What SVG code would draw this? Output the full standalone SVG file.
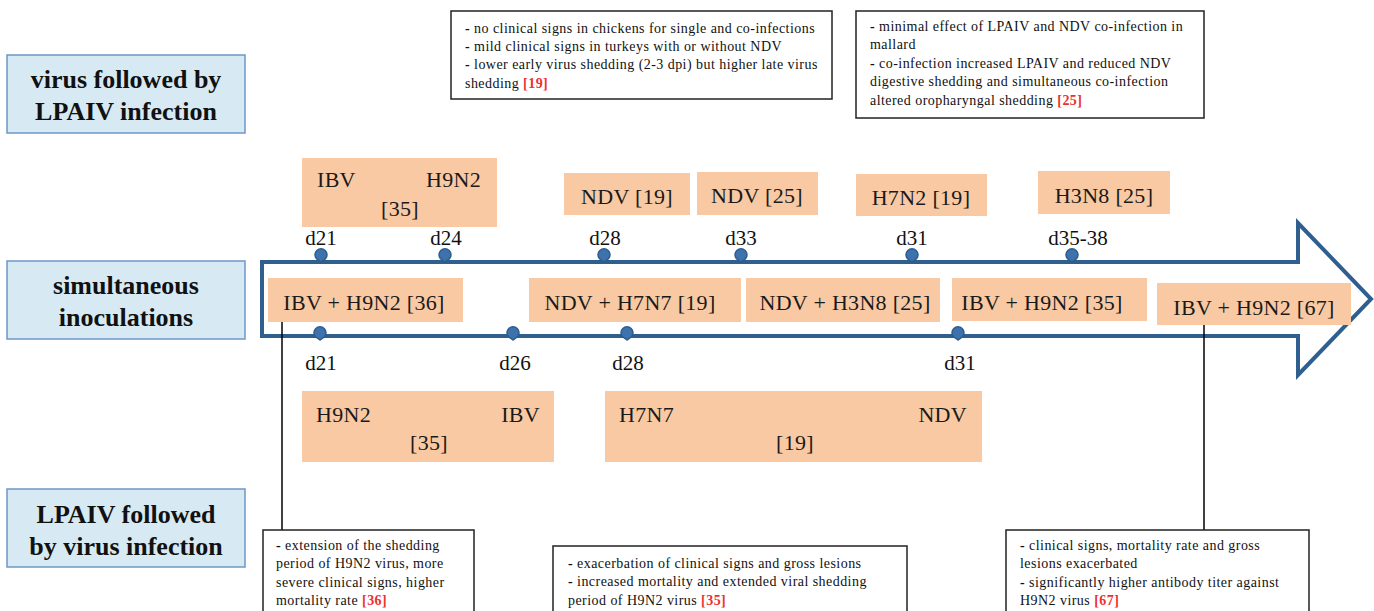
<svg xmlns="http://www.w3.org/2000/svg" width="1374" height="611" viewBox="0 0 1374 611">
<defs>
<style>
text{font-family:'Liberation Serif','Times New Roman',serif}
.lab{fill:#d7eaf4;stroke:#6f97c8;stroke-width:1.5}
.labt{font-weight:bold;font-size:26px;fill:#111;text-anchor:middle}
.ob{fill:#f8c9a2}
.ot{font-size:22px;letter-spacing:0.3px;fill:#1a1a1a}
.day{font-size:21px;fill:#111;text-anchor:middle}
.nb{fill:#fff;stroke:#222;stroke-width:1.5}
.nt{font-size:14px;letter-spacing:0.45px;fill:#111}
.ref{fill:#ee3030;font-weight:bold}
.b{font-weight:bold}
.conn{stroke:#000;stroke-width:1.5;fill:none}
</style>
<path id="pin" d="M0,7 L-4.5,3.8 A6,6 0 1 1 4.5,3.8 Z" fill="#3d72ad" stroke="#2d5c8c" stroke-width="1.5"/>
</defs>
<rect width="1374" height="611" fill="#fff"/>

<g id="label-virus-lpaiv">
<rect class="lab" x="7" y="55" width="238" height="78"/>
<text class="labt" x="126" y="88">virus followed by</text>
<text class="labt" x="126" y="120">LPAIV infection</text>
</g>
<g id="label-simultaneous">
<rect class="lab" x="7" y="261" width="238" height="78"/>
<text class="labt" x="126" y="294">simultaneous</text>
<text class="labt" x="126" y="326">inoculations</text>
</g>
<g id="label-lpaiv-virus">
<rect class="lab" x="7" y="489" width="238" height="78"/>
<text class="labt" x="126" y="523">LPAIV followed</text>
<text class="labt" x="126" y="555">by virus infection</text>
</g>

<g id="timeline-arrow">
<path d="M262,262 L1298,262 L1298,223 L1371,299 L1298,375 L1298,336 L262,336 Z" fill="none" stroke="#2f5f8f" stroke-width="4" stroke-linejoin="miter"/>
</g>

<g id="connectors">
<line class="conn" x1="282" y1="322" x2="282" y2="530"/>
<line class="conn" x1="1204" y1="325" x2="1204" y2="530"/>
</g>

<g id="pins-top">
<use href="#pin" x="321" y="255"/>
<use href="#pin" x="445" y="255"/>
<use href="#pin" x="604" y="255"/>
<use href="#pin" x="741" y="255"/>
<use href="#pin" x="912" y="255"/>
<use href="#pin" x="1072" y="255"/>
<text class="day" x="321" y="245">d21</text>
<text class="day" x="446" y="245">d24</text>
<text class="day" x="605" y="245">d28</text>
<text class="day" x="741" y="245">d33</text>
<text class="day" x="912" y="245">d31</text>
<text class="day" x="1078" y="245">d35-38</text>
</g>
<g id="pins-bottom">
<use href="#pin" x="320" y="333"/>
<use href="#pin" x="513" y="333"/>
<use href="#pin" x="627" y="333"/>
<use href="#pin" x="958" y="333"/>
<text class="day" x="321" y="370">d21</text>
<text class="day" x="515" y="370">d26</text>
<text class="day" x="628" y="370">d28</text>
<text class="day" x="960" y="370">d31</text>
</g>

<g id="box-ibv-h9n2-35-top">
<rect class="ob" x="302" y="158" width="195" height="69"/>
<text class="ot" x="317" y="187">IBV</text>
<text class="ot" x="426" y="187">H9N2</text>
<text class="ot" x="381" y="216">[35]</text>
</g>
<g id="box-ndv-19">
<rect class="ob" x="564" y="173" width="126" height="42"/>
<text class="ot" x="627" y="204" text-anchor="middle">NDV [19]</text>
</g>
<g id="box-ndv-25">
<rect class="ob" x="697" y="172" width="121" height="43"/>
<text class="ot" x="757" y="203" text-anchor="middle">NDV [25]</text>
</g>
<g id="box-h7n2-19">
<rect class="ob" x="856" y="174" width="131" height="42"/>
<text class="ot" x="921" y="205" text-anchor="middle">H7N2 [19]</text>
</g>
<g id="box-h3n8-25">
<rect class="ob" x="1038" y="171" width="132" height="43"/>
<text class="ot" x="1104" y="203" text-anchor="middle">H3N8 [25]</text>
</g>

<g id="box-ibv-h9n2-36">
<rect class="ob" x="268" y="278" width="195" height="44"/>
<text class="ot" x="364" y="310" text-anchor="middle">IBV + H9N2 [36]</text>
</g>
<g id="box-ndv-h7n7-19">
<rect class="ob" x="529" y="278" width="212" height="44"/>
<text class="ot" x="630" y="310" text-anchor="middle">NDV + H7N7 [19]</text>
</g>
<g id="box-ndv-h3n8-25">
<rect class="ob" x="746" y="278" width="194" height="44"/>
<text class="ot" x="845" y="310" text-anchor="middle">NDV + H3N8 [25]</text>
</g>
<g id="box-ibv-h9n2-35-mid">
<rect class="ob" x="952" y="278" width="195" height="43"/>
<text class="ot" x="1042" y="310" text-anchor="middle">IBV + H9N2 [35]</text>
</g>
<g id="box-ibv-h9n2-67">
<rect class="ob" x="1157" y="283" width="194" height="42"/>
<text class="ot" x="1254" y="315" text-anchor="middle">IBV + H9N2 [67]</text>
</g>

<g id="box-h9n2-ibv-35">
<rect class="ob" x="302" y="391" width="252" height="71"/>
<text class="ot" x="316" y="422">H9N2</text>
<text class="ot" x="540" y="422" text-anchor="end">IBV</text>
<text class="ot" x="429" y="450" text-anchor="middle">[35]</text>
</g>
<g id="box-h7n7-ndv-19">
<rect class="ob" x="605" y="391" width="377" height="71"/>
<text class="ot" x="619" y="422">H7N7</text>
<text class="ot" x="967" y="422" text-anchor="end">NDV</text>
<text class="ot" x="795" y="450" text-anchor="middle">[19]</text>
</g>

<g id="note-top-1">
<rect class="nb" x="451" y="11" width="381" height="88"/>
<text class="nt" x="465" y="33"><tspan class="b">-</tspan> no clinical signs in chickens for single and co-infections</text>
<text class="nt" x="465" y="51"><tspan class="b">-</tspan> mild clinical signs in turkeys with or without NDV</text>
<text class="nt" x="465" y="69"><tspan class="b">-</tspan> lower early virus shedding (2-3 dpi) but higher late virus</text>
<text class="nt" x="465" y="88">shedding  <tspan class="ref">[19]</tspan></text>
</g>
<g id="note-top-2">
<rect class="nb" x="856" y="11" width="348" height="107"/>
<text class="nt" x="870" y="31"><tspan class="b">-</tspan> minimal effect of LPAIV and NDV co-infection in</text>
<text class="nt" x="870" y="49">mallard</text>
<text class="nt" x="870" y="68"><tspan class="b">-</tspan> co-infection increased LPAIV and reduced NDV</text>
<text class="nt" x="870" y="86">digestive shedding and simultaneous co-infection</text>
<text class="nt" x="870" y="105">altered oropharyngal shedding <tspan class="ref">[25]</tspan></text>
</g>
<g id="note-bottom-1">
<rect class="nb" x="263" y="530" width="211" height="95"/>
<text class="nt" x="276" y="550"><tspan class="b">-</tspan> extension of the shedding</text>
<text class="nt" x="276" y="568">period of H9N2 virus, more</text>
<text class="nt" x="276" y="587">severe clinical signs, higher</text>
<text class="nt" x="276" y="605">mortality rate <tspan class="ref">[36]</tspan></text>
</g>
<g id="note-bottom-2">
<rect class="nb" x="553" y="546" width="354" height="80"/>
<text class="nt" x="568" y="568"><tspan class="b">-</tspan> exacerbation of clinical signs and gross lesions</text>
<text class="nt" x="568" y="586"><tspan class="b">-</tspan> increased mortality and extended viral shedding</text>
<text class="nt" x="568" y="605">period of H9N2 virus <tspan class="ref">[35]</tspan></text>
</g>
<g id="note-bottom-3">
<rect class="nb" x="1006" y="530" width="303" height="95"/>
<text class="nt" x="1020" y="550"><tspan class="b">-</tspan> clinical signs, mortality rate and gross</text>
<text class="nt" x="1020" y="568">lesions exacerbated</text>
<text class="nt" x="1020" y="587"><tspan class="b">-</tspan> significantly higher antibody titer against</text>
<text class="nt" x="1020" y="605">H9N2 virus <tspan class="ref">[67]</tspan></text>
</g>
</svg>
